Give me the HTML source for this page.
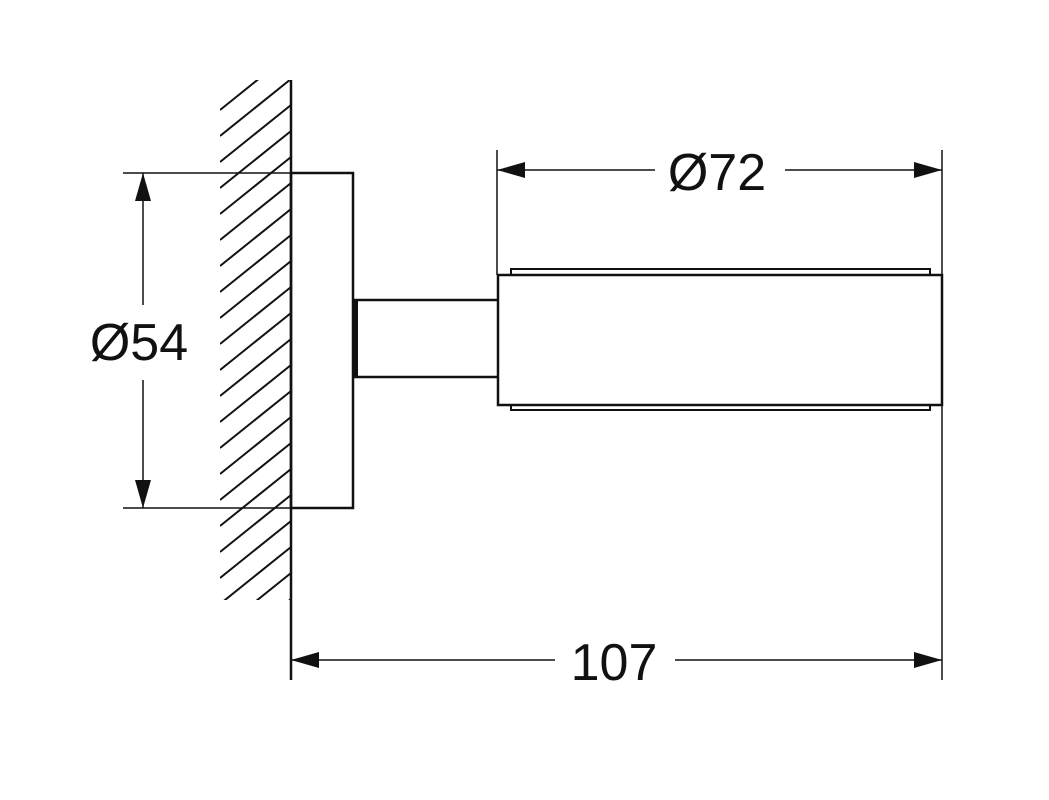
<!DOCTYPE html>
<html><head><meta charset="utf-8"><style>body{margin:0;background:#fff}svg{display:block}</style></head><body>
<svg width="1049" height="800" viewBox="0 0 1049 800" xmlns="http://www.w3.org/2000/svg">
<defs><clipPath id="c"><rect x="220" y="80" width="71" height="520"/></clipPath></defs>
<g clip-path="url(#c)" stroke="#111" stroke-width="2">
<path d="M220 110 l71 -57 M220 136 l71 -57 M220 162 l71 -57 M220 188 l71 -57 M220 214 l71 -57 M220 240 l71 -57 M220 266 l71 -57 M220 292 l71 -57 M220 318 l71 -57 M220 344 l71 -57 M220 370 l71 -57 M220 396 l71 -57 M220 422 l71 -57 M220 448 l71 -57 M220 474 l71 -57 M220 500 l71 -57 M220 526 l71 -57 M220 552 l71 -57 M220 578 l71 -57 M220 604 l71 -57 M220 630 l71 -57 M220 656 l71 -57"/>
</g>
<g stroke="#111" fill="none" stroke-width="2.5">
<line x1="291" y1="80" x2="291" y2="680"/>
<rect x="291" y="173" width="62" height="335"/>
<path d="M353 300 H497 M353 377 H497"/>
<line x1="356" y1="300" x2="356" y2="377" stroke-width="4"/>
<rect x="498" y="275" width="444" height="130"/>
<path d="M511 275 V269 H930 V275 M511 405 V410 H930 V405" stroke-width="2"/>
</g>
<g stroke="#111" stroke-width="1.5" fill="none">
<line x1="497" y1="150" x2="497" y2="275"/>
<line x1="942" y1="150" x2="942" y2="680"/>
<path d="M497 170 H655 M785 170 H942"/>
<path d="M291 660 H555 M675 660 H942"/>
<path d="M123 173 H291 M123 508 H291"/>
<path d="M143 173 V305 M143 380 V508"/>
</g>
<g fill="#111">
<path d="M497 170 l28 -8 v16z"/><path d="M942 170 l-28 -8 v16z"/>
<path d="M291 660 l28 -8 v16z"/><path d="M942 660 l-28 -8 v16z"/>
<path d="M143 173 l-8 28 h16z"/><path d="M143 508 l-8 -28 h16z"/>
</g>
<g font-family="Liberation Sans, sans-serif" font-size="52" fill="#111" text-anchor="middle">
<text x="717" y="190">Ø72</text>
<text x="139" y="360">Ø54</text>
<text x="614" y="680">107</text>
</g>
</svg>
</body></html>
